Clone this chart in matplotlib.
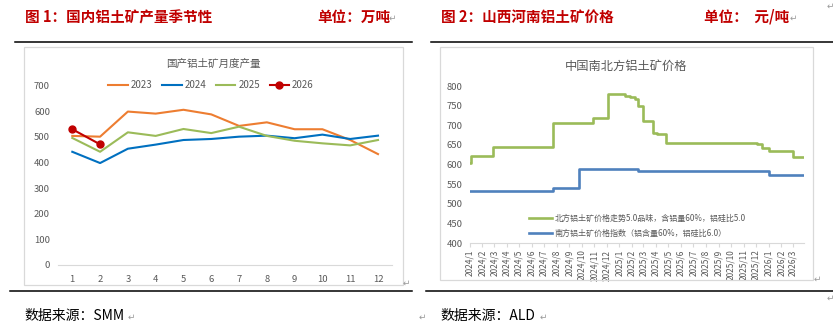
import matplotlib
matplotlib.use('Agg')
import matplotlib.pyplot as plt
import pandas as pd
from matplotlib.patches import Rectangle
from matplotlib.lines import Line2D

plt.rcParams['font.family'] = ['Noto Sans CJK SC', 'DejaVu Sans']

# ---------------- data ----------------
months = list(range(1, 13))
prod_2023 = [504, 501, 599, 591, 606, 588, 543, 557, 530, 530, 488, 433]
prod_2024 = [442, 398, 454, 470, 488, 492, 501, 505, 495, 509, 492, 505]
prod_2025 = [496, 442, 518, 504, 531, 515, 540, 504, 485, 475, 467, 488]
prod_2026 = [530, 471]
series_labels = ['2023', '2024', '2025', '2026']

north_dates = ['2024-01-01', '2024-01-03', '2024-02-26', '2024-07-22', '2024-10-29',
               '2024-12-05', '2025-01-15', '2025-01-27', '2025-02-08', '2025-02-16',
               '2025-03-01', '2025-03-25', '2025-04-02', '2025-04-25', '2025-12-03',
               '2025-12-17', '2026-01-03', '2026-03-01', '2026-03-27']
north_vals = [603, 622, 645, 705, 719, 779, 775, 771, 767, 748, 711, 680, 677, 656,
              652, 643, 635, 620, 620]
south_dates = ['2024-01-01', '2024-07-22', '2024-09-24', '2025-02-16', '2026-01-03',
               '2026-03-27']
south_vals = [534, 540, 588, 585, 574, 574]
north_label = '北方铝土矿价格走势5.0品味，含铝量60%，铝硅比5.0'
south_label = '南方铝土矿价格指数（铝含量60%，铝硅比6.0）'

W, H = 833, 334
fig = plt.figure(figsize=(W / 100, H / 100), dpi=100)


def rect(x0, y0, x1, y1):
    return [x0 / W, 1 - y1 / H, (x1 - x0) / W, (y1 - y0) / H]


def fx(x):
    return x / W


def fy(y):
    return 1 - y / H


RED = '#C00000'
GREY = '#595959'
PM = '#9a9a9a'

# ---------------- headers / frames ----------------
fig.text(fx(25), fy(17), '图 1：国内铝土矿产量季节性', color=RED, fontsize=10.5,
         fontweight='bold', va='center', ha='left')
fig.text(fx(317), fy(17), '单位：万吨', color=RED, fontsize=10.5,
         fontweight='bold', va='center', ha='left')
fig.text(fx(441), fy(17), '图 2：山西河南铝土矿价格', color=RED, fontsize=10.5,
         fontweight='bold', va='center', ha='left')
fig.text(fx(704), fy(17), '单位：  元/吨', color=RED, fontsize=10.5,
         fontweight='bold', va='center', ha='left')
for x, y in [(389, 18), (790, 18), (827, 6), (403, 283), (814, 279), (128, 317),
             (419, 317), (540, 317), (827, 298)]:
    fig.text(fx(x), fy(y), '↵', color=PM, fontsize=6.5, va='center', ha='left',
             family='DejaVu Sans')

for (x0, x1) in [(15, 412), (431, 833)]:
    fig.add_artist(Line2D([fx(x0), fx(x1)], [fy(41.7), fy(41.7)], color='black', lw=1.1))
    fig.add_artist(Line2D([fx(x0 - 5), fx(x1)], [fy(291), fy(291)], color='black', lw=1.1))

fig.add_artist(Rectangle((fx(24.3), fy(285)), (402.7 - 24.3) / W, (285 - 46.7) / H,
                         fill=False, edgecolor='#D9D9D9', lw=0.9))
fig.add_artist(Rectangle((fx(440), fy(280)), (812.7 - 440) / W, (280 - 47) / H,
                         fill=False, edgecolor='#D9D9D9', lw=0.9))

fig.text(fx(24), fy(316), '数据来源：SMM', color='black', fontsize=10, va='center', ha='left')
fig.text(fx(440), fy(316), '数据来源：ALD', color='black', fontsize=10, va='center', ha='left')

# ---------------- left chart ----------------
ax1 = fig.add_axes(rect(58.4, 85.7, 391.9, 265))
ax1.plot(months, prod_2023, color='#ED7D31', lw=1.5, label=series_labels[0])
ax1.plot(months, prod_2024, color='#0070C0', lw=1.5, label=series_labels[1])
ax1.plot(months, prod_2025, color='#9BBB59', lw=1.5, label=series_labels[2])
ax1.plot(months[:len(prod_2026)], prod_2026, color=RED, lw=1.5, marker='o',
         markersize=5, label=series_labels[3])
ax1.set_xlim(0.5, 12.5)
ax1.set_ylim(0, 700)
ax1.set_xticks(months)
ax1.set_yticks(range(0, 701, 100))
for s in ['top', 'right', 'left']:
    ax1.spines[s].set_visible(False)
ax1.spines['bottom'].set_color('#D9D9D9')
ax1.tick_params(axis='both', length=0, labelsize=6.8, colors=GREY)
ax1.tick_params(axis='x', pad=7)
ax1.tick_params(axis='y', pad=6)
ax1.patch.set_alpha(0)
fig.text(fx(213), fy(64), '国产铝土矿月度产量', color=GREY, fontsize=7.6,
         ha='center', va='center')
ax1.legend(loc='center', bbox_to_anchor=(fx(211), fy(85)),
           bbox_transform=fig.transFigure, ncol=4, frameon=False,
           fontsize=7, handlelength=2.0, handletextpad=0.3, columnspacing=1.0,
           labelcolor=GREY)

# ---------------- right chart ----------------
ax2 = fig.add_axes(rect(469.7, 86, 803.8, 243.3))
nd = pd.to_datetime(north_dates)
sd = pd.to_datetime(south_dates)
ax2.step(nd, north_vals, where='post', color='#9BBB59', lw=1.9, label=north_label)
ax2.step(sd, south_vals, where='post', color='#4F81BD', lw=1.9, label=south_label)
ax2.set_xlim(pd.Timestamp('2024-01-01'), pd.Timestamp('2026-03-28'))
ax2.set_ylim(400, 800)
ax2.set_yticks(range(400, 801, 50))
ticks = pd.date_range('2024-01-01', '2026-03-01', freq='MS')
ax2.set_xticks(ticks)
ax2.set_xticklabels([f'{d.year}/{d.month}' for d in ticks], rotation=90)
for s in ['top', 'right', 'left']:
    ax2.spines[s].set_visible(False)
ax2.spines['bottom'].set_color('#D9D9D9')
ax2.tick_params(axis='y', length=0, labelsize=6.8, colors=GREY, pad=5)
ax2.tick_params(axis='x', length=3, color='#D9D9D9', labelsize=6, labelcolor=GREY, pad=1.5)
ax2.patch.set_alpha(0)
fig.text(fx(626), fy(66), '中国南北方铝土矿价格', color=GREY, fontsize=8.8,
         ha='center', va='center')
ax2.legend(loc='upper left', bbox_to_anchor=(fx(522), fy(207)),
           bbox_transform=fig.transFigure, frameon=False, fontsize=5.8,
           handlelength=2.8, handletextpad=0.3, labelspacing=0.7, labelcolor=GREY)

fig.savefig('out.png', dpi=100)
